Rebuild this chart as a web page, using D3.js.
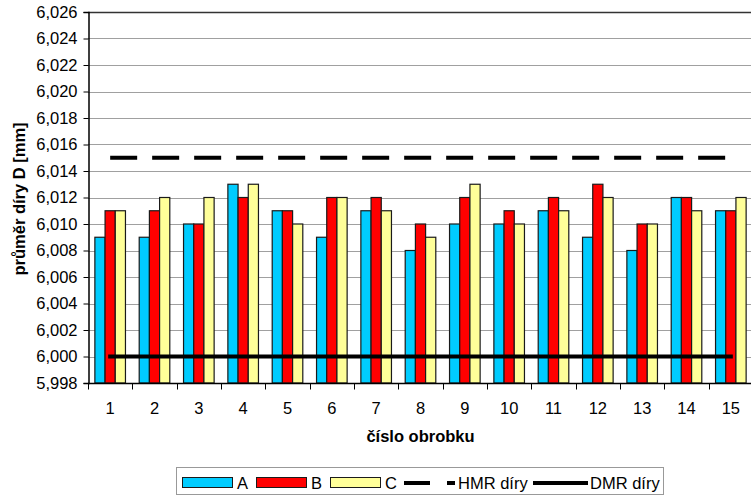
<!DOCTYPE html>
<html><head><meta charset="utf-8">
<script src="https://cdn.jsdelivr.net/npm/d3@7"></script>
<style>body{margin:0;background:#fff;} svg{display:block;font-family:"Liberation Sans",Arial,sans-serif;}</style>
</head><body>
<svg id="c" width="751" height="496"></svg>
<script>
const categories = ["1","2","3","4","5","6","7","8","9","10","11","12","13","14","15"];
const seriesNames = ["A","B","C"];
const seriesA = [6.009,6.009,6.010,6.013,6.011,6.009,6.011,6.008,6.010,6.010,6.011,6.009,6.008,6.012,6.011];
const seriesB = [6.011,6.011,6.010,6.012,6.011,6.012,6.012,6.010,6.012,6.011,6.012,6.013,6.010,6.012,6.011];
const seriesC = [6.011,6.012,6.012,6.013,6.010,6.012,6.011,6.009,6.013,6.010,6.011,6.012,6.010,6.011,6.012];
const hmrValue = 6.015;
const dmrValue = 6.000;
const yTicks = [5.998,6.000,6.002,6.004,6.006,6.008,6.010,6.012,6.014,6.016,6.018,6.020,6.022,6.024,6.026];
const colors = ["#00CCFF","#FF0000","#FFFF99"];
const legendLabels = ["A","B","C","HMR díry","DMR díry"];

const svg = d3.select("#c");
const L = 88, R = 753, T = 12, B = 383;
const FS = 16.5;
const x = d3.scaleBand().domain(categories).range([L, R]).padding(0);
const bw = x.bandwidth();
const x1 = d3.scaleBand().domain(seriesNames).range([bw*0.155, bw*0.845]).padding(0);
const y = d3.scaleLinear().domain([5.998, 6.026]).range([B, T]);
const fmt = v => v.toFixed(3).replace(".", ",");

// gridlines
svg.append("g").selectAll("line").data(yTicks).join("line")
  .attr("x1", L).attr("x2", R)
  .attr("y1", d => Math.round(y(d)) + 0.5).attr("y2", d => Math.round(y(d)) + 0.5)
  .attr("stroke", "#a0a0a0").attr("stroke-width", 1);

// bars
const data = [seriesA, seriesB, seriesC];
const gBars = svg.append("g");
categories.forEach((c, i) => {
  seriesNames.forEach((s, j) => {
    const v = data[j][i];
    gBars.append("rect")
      .attr("x", x(c) + x1(s))
      .attr("y", y(v))
      .attr("width", x1.bandwidth())
      .attr("height", y(5.998) - y(v))
      .attr("fill", colors[j])
      .attr("stroke", "#1a1a1a").attr("stroke-width", 1.2);
  });
});

// limit lines
const xc = d => x(d) + bw / 2;
svg.append("line")
  .attr("x1", xc(categories[0])).attr("x2", xc(categories[categories.length-1]))
  .attr("y1", y(hmrValue)).attr("y2", y(hmrValue))
  .attr("stroke", "#000").attr("stroke-width", 4).attr("stroke-dasharray", "27,15");
svg.append("line")
  .attr("x1", xc(categories[0])).attr("x2", xc(categories[categories.length-1]))
  .attr("y1", y(dmrValue)).attr("y2", y(dmrValue))
  .attr("stroke", "#000").attr("stroke-width", 4).attr("stroke-linecap", "square");

// top border
svg.append("line").attr("x1", L).attr("x2", R).attr("y1", T + 0.5).attr("y2", T + 0.5)
  .attr("stroke", "#333").attr("stroke-width", 1.5);

// y axis
const yAxis = d3.axisLeft(y).tickValues(yTicks).tickFormat(fmt).tickSize(5).tickPadding(6);
const gy = svg.append("g").attr("transform", `translate(${L + 0.5},0)`).call(yAxis);
gy.select(".domain").attr("stroke", "#000").attr("stroke-width", 1.5);
gy.selectAll(".tick line").attr("stroke", "#000");
gy.selectAll("text").attr("font-size", FS).attr("fill", "#000")
  .attr("font-family", "'Liberation Sans', Arial, sans-serif");

// x axis
const gx = svg.append("g").attr("transform", `translate(0,${B + 0.5})`);
gx.append("line").attr("x1", L).attr("x2", R).attr("stroke", "#000").attr("stroke-width", 1.5);
gx.selectAll("line.t").data(categories.concat(["end"])).join("line").attr("class", "t")
  .attr("x1", (d, i) => Math.round(L + i * bw) + 0.5).attr("x2", (d, i) => Math.round(L + i * bw) + 0.5)
  .attr("y1", 0).attr("y2", 6).attr("stroke", "#000");
gx.selectAll("text").data(categories).join("text")
  .attr("x", d => xc(d)).attr("y", 30)
  .attr("text-anchor", "middle").attr("font-size", FS).text(d => d);

// axis titles
svg.append("text").attr("x", (L + R) / 2).attr("y", 442)
  .attr("text-anchor", "middle").attr("font-size", FS).attr("font-weight", "bold")
  .text("číslo obrobku");
svg.append("text").attr("transform", `translate(25,199) rotate(-90)`)
  .attr("text-anchor", "middle").attr("font-size", FS).attr("font-weight", "bold")
  .text("průměr díry D [mm]");

// legend
const lg = svg.append("g");
lg.append("rect").attr("x", 176.5).attr("y", 467.5).attr("width", 487).attr("height", 27)
  .attr("fill", "#fff").attr("stroke", "#999");
const swX = [182, 256, 330];
seriesNames.forEach((s, j) => {
  lg.append("rect").attr("x", swX[j] + 0.5).attr("y", 477.5).attr("width", 50).attr("height", 10)
    .attr("fill", colors[j]).attr("stroke", "#1a1a1a");
  lg.append("text").attr("x", swX[j] + 55).attr("y", 488.5).attr("font-size", FS).text(legendLabels[j]);
});
lg.append("line").attr("x1", 404).attr("x2", 455).attr("y1", 483).attr("y2", 483)
  .attr("stroke", "#000").attr("stroke-width", 4).attr("stroke-dasharray", "26,17");
lg.append("text").attr("x", 458).attr("y", 488.5).attr("font-size", FS).text(legendLabels[3]);
lg.append("line").attr("x1", 533).attr("x2", 588).attr("y1", 483).attr("y2", 483)
  .attr("stroke", "#000").attr("stroke-width", 4);
lg.append("text").attr("x", 590).attr("y", 488.5).attr("font-size", FS).text(legendLabels[4]);
</script>
</body></html>
